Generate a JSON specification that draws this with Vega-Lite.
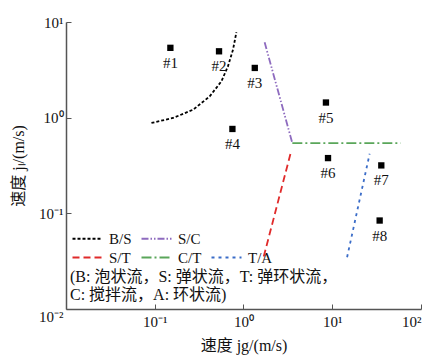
{
  "$schema": "https://vega.github.io/schema/vega-lite/v6.json",
  "autosize": {"type": "none"},
  "width": 355,
  "height": 287,
  "padding": {"left": 66, "top": 22, "right": 25, "bottom": 55},
  "background": "white",
  "config": {
    "view": {"stroke": null},
    "font": "Liberation Serif",
    "axis": {
      "domainColor": "#555555",
      "domainWidth": 1.5,
      "tickColor": "#555555",
      "tickWidth": 1,
      "tickSize": -5,
      "grid": false,
      "labelFont": "Liberation Serif",
      "labelFontSize": 15,
      "labelColor": "#111111",
      "titleFont": "Liberation Serif, Noto Sans CJK SC",
      "titleFontSize": 16,
      "titleFontWeight": "normal",
      "titleColor": "#111111"
    }
  },
  "datasets": {
    "bounds": [
      {"boundary": "B/S", "x": 0.0918, "y": 0.881},
      {"boundary": "B/S", "x": 0.161, "y": 0.993},
      {"boundary": "B/S", "x": 0.270, "y": 1.21},
      {"boundary": "B/S", "x": 0.416, "y": 1.67},
      {"boundary": "B/S", "x": 0.564, "y": 2.40},
      {"boundary": "B/S", "x": 0.668, "y": 3.44},
      {"boundary": "B/S", "x": 0.762, "y": 5.15},
      {"boundary": "B/S", "x": 0.832, "y": 7.82},
      {"boundary": "S/C", "x": 1.73, "y": 6.13},
      {"boundary": "S/C", "x": 3.55, "y": 0.543},
      {"boundary": "C/T", "x": 3.55, "y": 0.543},
      {"boundary": "C/T", "x": 58.9, "y": 0.543},
      {"boundary": "S/T", "x": 1.69, "y": 0.0353},
      {"boundary": "S/T", "x": 3.40, "y": 0.427},
      {"boundary": "T/A", "x": 14.7, "y": 0.0348},
      {"boundary": "T/A", "x": 26.4, "y": 0.42}
    ],
    "cases": [
      {"label": "#1", "x": 0.150, "y": 5.37},
      {"label": "#2", "x": 0.530, "y": 4.94},
      {"label": "#3", "x": 1.34, "y": 3.31},
      {"label": "#4", "x": 0.750, "y": 0.762},
      {"label": "#5", "x": 8.49, "y": 1.44},
      {"label": "#6", "x": 8.96, "y": 0.378},
      {"label": "#7", "x": 35.7, "y": 0.317},
      {"label": "#8", "x": 34.2, "y": 0.0841}
    ]
  },
  "encoding": {
    "x": {
      "field": "x", "type": "quantitative",
      "scale": {"type": "log", "domain": [0.01, 100], "nice": false},
      "axis": {
        "title": "速度 jg/(m/s)",
        "values": [0.1, 1, 10, 100],
        "labelExpr": "datum.value < 0.5 ? '10⁻¹' : datum.value < 5 ? '10⁰' : datum.value < 50 ? '10¹' : '10²'",
        "labelPadding": 10,
        "titlePadding": 8
      }
    },
    "y": {
      "field": "y", "type": "quantitative",
      "scale": {"type": "log", "domain": [0.01, 10], "nice": false},
      "axis": {
        "title": "速度 jₗ/(m/s)",
        "values": [0.01, 0.1, 1, 10],
        "labelExpr": "datum.value < 0.05 ? '10⁻²' : datum.value < 0.5 ? '10⁻¹' : datum.value < 5 ? '10⁰' : '10¹'",
        "labelBaseline": {"condition": {"test": "datum.value < 0.05", "value": "top"}, "value": "middle"},
        "labelPadding": 8,
        "titlePadding": 12
      }
    }
  },
  "layer": [
    {
      "data": {"name": "bounds"},
      "mark": {"type": "line", "strokeWidth": 1.8},
      "encoding": {
        "color": {
          "field": "boundary", "type": "nominal",
          "scale": {
            "domain": ["B/S", "S/T", "S/C", "C/T", " ", "T/A"],
            "range": ["#000000", "#e02a2a", "#8e6bbf", "#5aa65a", "transparent", "#3a6cc8"]
          },
          "legend": {
            "orient": "none",
            "legendX": 4,
            "legendY": 209,
            "columns": 3,
            "columnPadding": 5,
            "rowPadding": 3,
            "symbolType": "M-1,0H5",
            "symbolSize": 100,
            "symbolStrokeWidth": 2,
            "labelOffset": 24,
            "labelFont": "Liberation Serif",
            "labelFontSize": 15,
            "labelColor": "#111111",
            "title": ["(B: 泡状流，S: 弹状流，T: 弹环状流，", "C: 搅拌流，A: 环状流)"],
            "titleOrient": "bottom",
            "titleFont": "Liberation Serif, Noto Sans CJK SC",
            "titleFontSize": 16,
            "titleFontWeight": "normal",
            "titleColor": "#111111",
            "titleLineHeight": 18,
            "titleLimit": 400,
            "titlePadding": 3
          }
        },
        "strokeDash": {
          "field": "boundary", "type": "nominal",
          "scale": {
            "domain": ["B/S", "S/T", "S/C", "C/T", " ", "T/A"],
            "range": [[3, 2], [7, 4], [7, 2, 1.5, 2, 1.5, 2], [10, 3, 2, 3], [1, 0], [3, 4]]
          }
        }
      }
    },
    {
      "data": {"name": "cases"},
      "mark": {"type": "square", "filled": true, "size": 40, "color": "#000000", "opacity": 1},
      "encoding": {}
    },
    {
      "data": {"name": "cases"},
      "mark": {"type": "text", "dy": 15, "fontSize": 15, "font": "Liberation Serif", "color": "#111111"},
      "encoding": {"text": {"field": "label"}}
    }
  ]
}
